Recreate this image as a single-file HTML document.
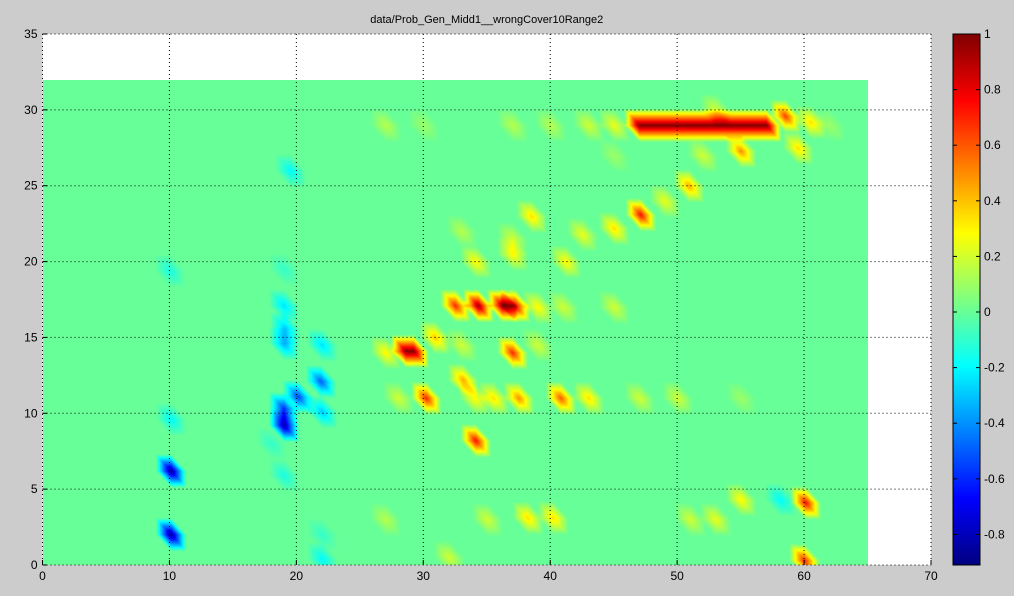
<!DOCTYPE html>
<html><head><meta charset="utf-8"><style>
body{margin:0;width:1014px;height:596px;background:#cccccc;position:relative;overflow:hidden;font-family:"Liberation Sans",sans-serif;}
svg{position:absolute;left:0;top:0}
canvas{position:absolute;}
</style></head><body>
<svg id="ax" width="1014" height="596"></svg>
<canvas id="hm"></canvas>
<svg id="ov" width="1014" height="596"></svg>
<script>
// blob data: x position, y position, value, horizontal length (data units)
const blobX=[10.1,10.1,10.1,10,19,19,20.1,21.9,22,19,19.1,19,22,19,19.5,19,18,22,22,58.1,
 47,58.5,60.5,55,50.9,49,47.1,45,42.5,38.5,41.2,37,34.1,32.5,34.3,36.2,37.2,39,41,45,
 28.6,27,30.9,33,37,39,30.2,28,33.1,34,35.5,37.5,40.8,43,47,50,55,34.1,60.1,55,
 38.2,40.2,51,53,35,27,60,32,27,30,37,40,43,45,53,62,45,52,33,37,59.5];
const blobY=[2,6.2,9.6,19.4,9.2,10.3,11.1,12.1,10.1,14.6,15.6,17.1,14.5,19.5,26,5.9,8,0.4,2,4.3,
 29,29.6,29.2,27.3,25,24,23.1,22.2,21.8,23,20,20.5,20,17.1,17.1,17.1,17.1,17,17,17,
 14.1,14,15,14.5,14,14.5,11,11,12.2,11,11,11,11,11,11,11,11,8.2,4.1,4.3,
 3.1,3.1,3,3,3,3,0.3,0.5,29,29,29,29,29,29,30,29,27,27,22,21.5,27.5];
const blobV=[-0.88,-0.88,-0.2,-0.15,-0.85,-0.6,-0.55,-0.5,-0.3,-0.35,-0.3,-0.25,-0.25,-0.1,-0.2,-0.15,-0.1,-0.2,-0.1,-0.2,
 1.0,0.65,0.35,0.5,0.45,0.25,0.75,0.35,0.25,0.35,0.3,0.3,0.3,0.7,0.95,0.95,0.8,0.3,0.2,0.2,
 1.0,0.3,0.4,0.2,0.7,0.2,0.7,0.2,0.45,0.3,0.35,0.5,0.6,0.35,0.2,0.2,0.1,0.75,0.75,0.3,
 0.35,0.35,0.2,0.25,0.2,0.15,0.7,0.2,0.15,0.1,0.15,0.15,0.2,0.25,0.2,0.1,0.1,0.2,0.15,0.2,0.35];
const blobLen=[0,0,0,0,0,0,0,0,0,0,0,0,0,0,0,0,0,0,0,0,
 10,0,0,0,0,0,0,0,0,0,0,0,0,0,0,0,0,0,0,0,
 0.6,0,0,0,0,0,0,0,0,0,0,0,0,0,0,0,0,0,0,0,
 0,0,0,0,0,0,0,0,0,0,0,0,0,0,0,0,0,0,0,0,0];
const xTicks=[0,10,20,30,40,50,60,70];
const yTicks=[0,5,10,15,20,25,30,35];
const cTicks=[1,0.8,0.6,0.4,0.2,0,-0.2,-0.4,-0.6,-0.8];
const CMIN=-0.91,CMAX=1;

const L=42.5,R=931,T=34,B=565;
const sx=v=>L+(R-L)*v/70, sy=v=>B-(B-T)*v/35;
const NS='http://www.w3.org/2000/svg';
function mk(p,tag,at){const e=document.createElementNS(NS,tag);for(const k in at)e.setAttribute(k,at[k]);p.appendChild(e);return e;}
function jet(t){t=Math.max(0,Math.min(1,t));
 const f=x=>Math.max(0,Math.min(1,x));
 return [f(1.5-Math.abs(4*t-3)),f(1.5-Math.abs(4*t-2)),f(1.5-Math.abs(4*t-1))].map(c=>Math.round(c*255));}

const ax=document.getElementById('ax');
const bg=mk(ax,'rect',{x:L,y:T,width:R-L,height:B-T,fill:'#fff'});



// heatmap canvas
const cv=document.getElementById('hm');
const x0=sx(0),x1=sx(65),y0=sy(32),y1=sy(0);
const W=Math.round(x1-x0),H=Math.round(y1-y0);
cv.width=W;cv.height=H;cv.style.left=x0+'px';cv.style.top=y0+'px';
const acc=new Float32Array(W*H);
const dx=1.2,dy=1.1;
const ux=W/65,uy=H/32;
for(let i=0;i<blobX.length;i++){
 const bx=blobX[i],by=blobY[i],v=blobV[i],ln=blobLen[i];
 const pa=Math.max(0,Math.floor((bx-dx)*ux)),pb=Math.min(W-1,Math.ceil((bx+ln+dx)*ux));
 const qa=Math.max(0,Math.floor((32-by-dy)*uy)),qb=Math.min(H-1,Math.ceil((32-by+dy)*uy));
 for(let q=qa;q<=qb;q++){const yy=32-(q+0.5)/uy;const vv=(yy-by)/dy;
  for(let p=pa;p<=pb;p++){const xx=(p+0.5)/ux;
   const cx=Math.min(Math.max(xx,bx),bx+ln);const u=(xx-cx)/dx;
   const m=Math.max(Math.abs(u),Math.abs(vv),Math.abs(u+vv));
   if(m<1)acc[q*W+p]+=v*(1-m);}}
}
const ctx=cv.getContext('2d');const img=ctx.createImageData(W,H);
for(let k=0;k<W*H;k++){const c=jet((Math.max(CMIN,Math.min(CMAX,acc[k]))-CMIN)/(CMAX-CMIN));
 img.data[4*k]=c[0];img.data[4*k+1]=c[1];img.data[4*k+2]=c[2];img.data[4*k+3]=255;}
ctx.putImageData(img,0,0);

// overlay: grid, ticks, labels
const ov=document.getElementById('ov');
xTicks.forEach(t=>{const X=sx(t);
 const g=mk(ov,'line',{x1:X,x2:X,y1:T,y2:B,stroke:'#000','stroke-dasharray':'1,3','stroke-width':1});
 
 mk(ov,'line',{x1:X,x2:X,y1:B,y2:B-5,stroke:'#000'});
 const tx=mk(ov,'text',{x:X,y:B+15,'text-anchor':'middle','font-size':12,fill:'#000'});tx.textContent=t;
 });
yTicks.forEach(t=>{const Y=sy(t);
 const g=mk(ov,'line',{x1:L,x2:R,y1:Y,y2:Y,stroke:'#000','stroke-dasharray':'1,3','stroke-width':1});
 
 mk(ov,'line',{x1:L,x2:L+5,y1:Y,y2:Y,stroke:'#000'});
 const tx=mk(ov,'text',{x:L-5,y:Y+4,'text-anchor':'end','font-size':12,fill:'#000'});tx.textContent=t;
 });
const ttl=mk(ov,'text',{x:(L+R)/2,y:23,'text-anchor':'middle','font-size':11,fill:'#000'});
ttl.textContent='data/Prob_Gen_Midd1__wrongCover10Range2';


// colorbar
const CL=953,CR=980;const cy=v=>T+(CMAX-v)/(CMAX-CMIN)*(B-T);
const cb=mk(ov,'g',{});
for(let p=T;p<B;p++){const v=CMAX-(p-T+0.5)/(B-T)*(CMAX-CMIN);const c=jet((v-CMIN)/(CMAX-CMIN));
 mk(cb,'rect',{x:CL,y:p,width:CR-CL,height:1.2,fill:`rgb(${c[0]},${c[1]},${c[2]})`});}
mk(cb,'rect',{x:CL,y:T,width:CR-CL,height:B-T,fill:'none',stroke:'#000','stroke-width':1});
cTicks.forEach(t=>{const Y=cy(t);
 mk(cb,'line',{x1:CR-4,x2:CR,y1:Y,y2:Y,stroke:'#000'});mk(cb,'line',{x1:CL,x2:CL+4,y1:Y,y2:Y,stroke:'#000'});
 const tx=mk(ov,'text',{x:CR+4,y:Y+4,'font-size':12,fill:'#000'});tx.textContent=t;
 });
</script>
</body></html>
